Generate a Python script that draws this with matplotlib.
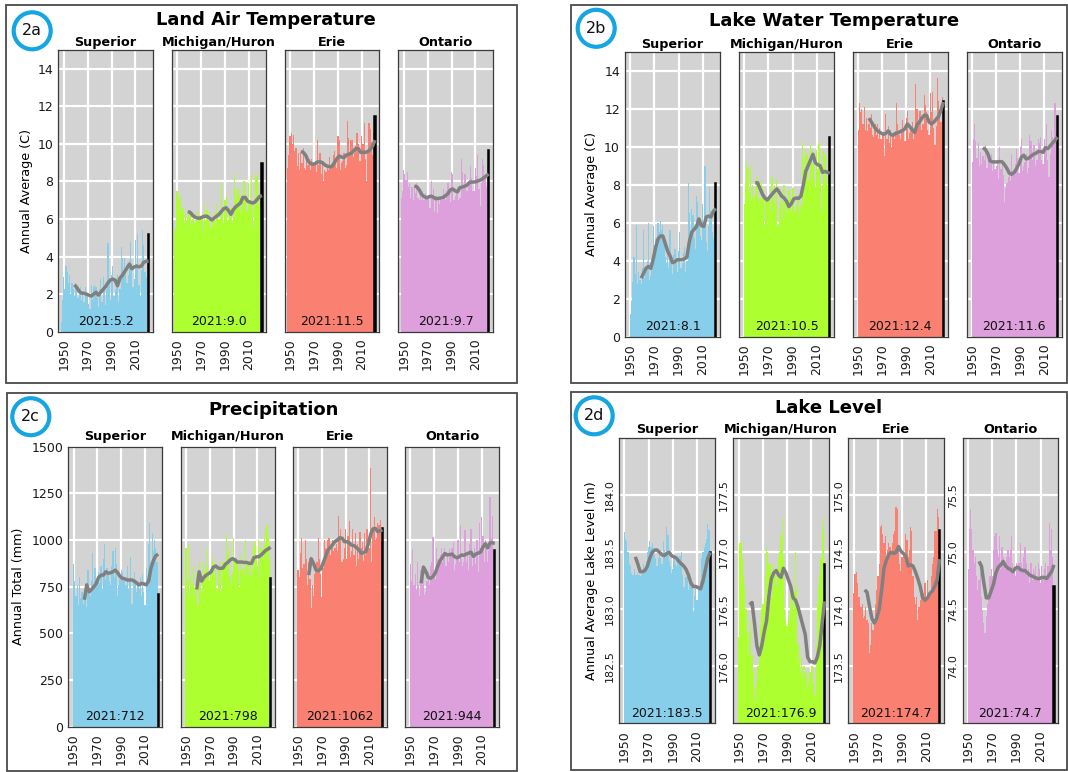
import matplotlib
matplotlib.use("Agg")
import matplotlib.pyplot as plt
from matplotlib.patches import Rectangle, Ellipse
from matplotlib.ticker import FormatStrFormatter

W, H = 1068, 772

# ---------------- data ----------------
LAKES = ["Superior", "Michigan/Huron", "Erie", "Ontario"]
COLORS = ["#87CEEB", "#ADFF2F", "#FA8072", "#DDA0DD"]
XTICKS = [1950, 1970, 1990, 2010]

AIR_YEARS = list(range(1948, 2022))
YEARS = list(range(1950, 2022))
LINE_YEARS = list(range(1959, 2022, 2))

# 2a Land air temperature (C), 1948-2021
AIR_SUP = [0.5, 1.7,
           2.9, 2.3, 3.5, 3.2, 2.6, 3.0, 2.0, 2.6, 2.3, 1.9,
           2.6, 2.5, 1.8, 2.2, 2.4, 1.7, 2.1, 1.6, 2.4, 2.0,
           1.9, 1.5, 1.2, 2.5, 1.7, 2.4, 2.5, 2.4, 1.8, 1.3,
           2.3, 2.8, 1.6, 2.9, 2.4, 1.4, 2.2, 4.7, 2.7, 1.7,
           3.0, 3.5, 1.9, 2.2, 2.7, 3.0, 1.6, 2.3, 4.5, 3.9,
           3.2, 3.9, 3.1, 2.6, 3.0, 3.8, 4.8, 3.6, 2.4, 2.8,
           4.9, 3.6, 5.2, 2.5, 1.9, 3.3, 5.4, 4.6, 3.2, 2.9,
           4.4, 5.2]
AIR_MH = [5.3, 5.5,
          7.5, 7.3, 6.9, 7.2, 6.4, 6.6, 5.8, 6.3, 5.9, 6.1,
          6.3, 6.5, 5.7, 6.0, 6.3, 5.8, 6.4, 5.9, 6.4, 6.0,
          6.1, 6.0, 5.3, 6.8, 5.9, 6.5, 5.9, 6.4, 5.6, 5.5,
          5.9, 6.4, 5.8, 6.8, 6.3, 6.0, 6.4, 7.9, 6.5, 5.8,
          7.0, 7.3, 5.9, 6.0, 6.5, 6.6, 5.8, 6.1, 8.4, 7.6,
          7.0, 7.6, 7.3, 6.4, 6.7, 7.2, 8.0, 7.3, 6.4, 6.5,
          7.9, 7.0, 8.3, 6.6, 5.5, 6.8, 8.4, 8.2, 7.0, 6.7,
          7.9, 9.0]
AIR_ERIE = [8.7, 9.4,
            10.4, 10.6, 10.0, 10.5, 9.6, 9.8, 8.8, 9.5, 8.6, 9.5,
            9.0, 9.8, 8.7, 8.6, 9.4, 8.9, 9.2, 8.6, 9.2, 8.9,
            9.0, 9.1, 8.5, 10.2, 8.9, 9.5, 8.4, 9.0, 8.0, 8.6,
            8.5, 8.8, 8.6, 9.3, 8.9, 8.7, 9.4, 9.6, 9.2, 8.7,
            10.4, 10.2, 8.6, 9.0, 9.1, 9.5, 8.7, 8.9, 11.2, 10.3,
            9.4, 10.2, 10.2, 9.3, 9.5, 9.9, 10.6, 10.0, 9.1, 9.1,
            10.4, 10.0, 11.1, 9.2, 8.0, 9.5, 11.1, 10.8, 10.1, 9.4,
            10.6, 11.5]
AIR_ONT = [7.1, 7.5,
           8.6, 8.4, 8.1, 8.5, 7.7, 7.9, 7.1, 7.7, 7.0, 7.8,
           7.4, 7.9, 7.1, 7.0, 7.6, 7.0, 7.5, 7.0, 7.4, 7.1,
           7.2, 7.3, 6.6, 8.0, 7.1, 7.6, 6.4, 7.2, 6.3, 7.0,
           6.8, 7.1, 7.0, 7.6, 7.2, 7.0, 7.5, 7.9, 7.4, 6.9,
           8.5, 8.4, 7.0, 7.2, 7.4, 7.7, 7.0, 7.1, 9.2, 8.5,
           7.6, 8.4, 8.4, 7.5, 7.7, 8.1, 8.8, 8.2, 7.5, 7.5,
           8.7, 8.3, 9.4, 7.6, 6.7, 7.9, 9.2, 8.9, 8.2, 7.7,
           8.8, 9.7]
AIR_LINE_SUP = [2.5, 2.35, 2.15, 2.05, 2.05, 2.0, 1.95, 1.9, 2.0, 2.1, 1.95, 2.1,
                2.25, 2.4, 2.6, 2.75, 2.8, 2.75, 2.45, 2.85, 3.0, 3.2, 3.4, 3.6,
                3.35, 3.45, 3.5, 3.45, 3.5, 3.7, 3.75, 3.75]
AIR_LINE_MH = [6.4, 6.35, 6.2, 6.1, 6.05, 6.05, 6.1, 6.15, 6.15, 6.05, 5.95, 6.05,
               6.15, 6.25, 6.4, 6.55, 6.6, 6.45, 6.25, 6.5, 6.65, 6.75, 6.85, 7.15,
               7.15, 6.95, 6.9, 6.85, 6.9, 7.05, 7.2, 7.25]
AIR_LINE_ERIE = [9.6, 9.55, 9.4, 9.1, 8.95, 8.92, 8.95, 9.04, 9.05, 9.0, 8.88, 8.82,
                 8.78, 8.8, 9.0, 9.2, 9.36, 9.3, 9.27, 9.4, 9.45, 9.5, 9.62, 9.75,
                 9.75, 9.55, 9.55, 9.55, 9.6, 9.7, 9.9, 10.2]
AIR_LINE_ONT = [7.76, 7.72, 7.55, 7.31, 7.2, 7.13, 7.18, 7.22, 7.15, 7.08, 7.1, 7.12,
                7.15, 7.25, 7.35, 7.55, 7.6, 7.5, 7.45, 7.67, 7.7, 7.75, 7.8, 7.95,
                7.97, 7.97, 8.0, 8.05, 8.1, 8.2, 8.3, 8.4]

# 2b Lake water temperature (C), 1950-2021
WAT_SUP = [1.2, 1.9, 2.9, 4.2, 3.3, 5.9, 2.8, 3.4, 3.0, 2.8,
           3.6, 5.6, 3.1, 3.6, 4.0, 6.0, 3.0, 3.2, 3.6, 5.8,
           4.8, 5.2, 4.6, 6.0, 5.5, 6.1, 5.6, 5.9, 5.0, 4.2,
           3.9, 4.5, 3.6, 5.6, 4.0, 3.3, 4.3, 4.6, 3.9, 3.4,
           4.5, 5.5, 3.6, 3.9, 4.4, 4.7, 3.4, 4.0, 8.1, 6.5,
           5.2, 6.7, 6.4, 5.2, 4.6, 7.4, 7.1, 6.2, 5.3, 5.1,
           7.0, 5.9, 9.0, 5.0, 4.5, 5.8, 7.9, 6.6, 5.5, 5.2,
           7.2, 8.1]
WAT_MH = [7.0, 8.1, 9.2, 8.9, 7.6, 9.0, 7.2, 8.0, 7.3, 7.5,
          8.4, 8.3, 7.0, 7.3, 8.2, 7.6, 7.9, 5.8, 7.3, 7.2,
          7.4, 7.5, 6.6, 8.4, 7.2, 8.0, 7.0, 8.3, 5.8, 6.7,
          7.1, 7.4, 6.2, 8.0, 7.1, 6.5, 7.0, 7.7, 7.3, 6.6,
          7.8, 7.9, 6.6, 6.9, 7.3, 7.5, 6.4, 6.9, 10.3, 9.4,
          8.4, 9.8, 9.6, 8.2, 8.3, 10.1, 9.9, 9.1, 8.2, 7.9,
          9.8, 8.8, 10.2, 8.1, 6.6, 8.0, 9.8, 9.6, 8.4, 8.0,
          9.6, 10.5]
WAT_ERIE = [10.9, 12.3, 11.8, 12.0, 11.2, 12.1, 10.9, 11.5, 10.8, 11.2,
            11.0, 11.7, 10.6, 10.5, 11.2, 10.6, 11.2, 10.4, 11.0, 10.4,
            10.6, 10.7, 9.5, 11.7, 10.4, 11.1, 10.2, 10.9, 10.0, 10.5,
            10.4, 10.8, 12.3, 11.2, 10.6, 10.4, 10.9, 11.4, 10.9, 10.3,
            11.5, 11.9, 10.4, 10.7, 11.0, 11.3, 10.4, 10.7, 13.3, 12.0,
            11.1, 11.9, 11.9, 10.9, 11.2, 12.7, 12.2, 11.8, 10.9, 10.6,
            12.8, 11.8, 12.9, 11.0, 10.1, 11.1, 13.6, 12.4, 11.9, 11.3,
            12.6, 12.4]
WAT_ONT = [9.2, 10.4, 11.2, 10.3, 9.4, 10.2, 9.0, 9.7, 9.1, 9.5,
           9.3, 10.1, 8.9, 8.9, 9.5, 9.1, 9.6, 8.7, 9.3, 8.8,
           9.0, 9.2, 8.3, 10.0, 8.8, 9.3, 8.5, 7.1, 7.8, 8.1,
           8.4, 8.6, 8.2, 9.6, 8.7, 8.5, 9.1, 9.9, 9.4, 8.6,
           10.0, 10.4, 8.7, 9.0, 9.2, 9.6, 8.6, 8.9, 10.6, 10.3,
           9.3, 10.1, 10.1, 9.0, 9.3, 10.4, 10.2, 10.5, 9.3, 9.1,
           10.4, 10.0, 11.2, 9.3, 8.4, 9.6, 10.9, 10.5, 10.1, 12.3,
           10.7, 11.6]
WAT_LINE_SUP = [3.08, 3.35, 3.6, 3.7, 3.6, 4.1, 4.7, 5.15, 5.3, 5.3, 4.9, 4.5,
                4.25, 3.9, 3.95, 4.05, 4.05, 4.05, 4.1, 4.2, 5.0, 5.5, 5.65, 5.8,
                6.2, 5.85, 5.8, 6.3, 6.35, 6.3, 6.6, 6.75]
WAT_LINE_MH = [8.1, 8.1, 7.8, 7.5, 7.3, 7.2, 7.35, 7.5, 7.65, 7.78, 7.6, 7.4,
               7.3, 7.13, 6.85, 7.0, 7.25, 7.3, 7.28, 7.4, 8.0, 8.7, 9.0, 9.3,
               9.6, 9.15, 9.05, 9.0, 8.65, 8.7, 8.65, 8.6]
WAT_LINE_ERIE = [11.5, 11.3, 11.1, 10.9, 10.8, 10.72, 10.65, 10.7, 10.83, 10.65, 10.6, 10.7,
                 10.72, 10.8, 10.85, 10.95, 11.2, 11.05, 10.9, 10.75, 11.15, 11.3, 11.5, 11.65,
                 11.65, 11.3, 11.2, 11.3, 11.45, 11.6, 11.95, 12.35]
WAT_LINE_ONT = [9.95, 9.85, 9.65, 9.24, 9.2, 9.2, 9.2, 9.22, 9.2, 9.05, 8.85, 8.6,
                8.55, 8.65, 8.85, 9.1, 9.45, 9.55, 9.35, 9.4, 9.5, 9.6, 9.65, 9.75,
                9.75, 9.7, 9.95, 9.9, 10.05, 10.2, 10.35, 10.5]

# 2c Precipitation (mm), 1950-2021
PRE_SUP = [870, 780, 700, 760, 650, 800, 690, 720, 660, 700,
           760, 640, 840, 720, 700, 780, 930, 740, 850, 780,
           800, 830, 770, 860, 740, 900, 980, 790, 850, 820,
           780, 760, 860, 940, 800, 960, 870, 700, 760, 790,
           840, 830, 780, 800, 760, 860, 740, 780, 910, 660,
           780, 830, 780, 720, 760, 740, 800, 700, 820, 720,
           650, 850, 760, 980, 1090, 880, 1040, 940, 1000, 960,
           880, 712]
PRE_MH = [960, 790, 980, 700, 800, 760, 860, 750, 700, 830,
          650, 880, 760, 720, 780, 880, 830, 960, 860, 820,
          780, 830, 910, 880, 800, 870, 740, 860, 850, 880,
          720, 880, 880, 870, 1030, 920, 960, 800, 760, 830,
          1010, 890, 900, 890, 840, 750, 920, 840, 850, 810,
          1000, 880, 870, 820, 900, 800, 960, 840, 990, 900,
          860, 1000, 800, 960, 950, 900, 1050, 980, 1080, 1010,
          900, 798]
PRE_ERIE = [840, 800, 930, 1010, 850, 870, 1000, 900, 760, 880,
            790, 634, 760, 700, 820, 860, 880, 1010, 900, 820,
            696, 850, 1000, 960, 920, 1000, 1010, 920, 980, 1000,
            940, 960, 980, 940, 1130, 1000, 1060, 880, 900, 960,
            1060, 900, 1020, 1100, 910, 940, 1060, 920, 1040, 860,
            980, 900, 1045, 960, 990, 890, 1040, 920, 1060, 1000,
            960, 1384, 880, 1050, 1125, 1000, 1010, 1090, 1080, 1110,
            990, 1062]
PRE_ONT = [870, 780, 950, 760, 820, 730, 880, 760, 700, 840,
           760, 800, 705, 720, 780, 830, 760, 860, 880, 1018,
           800, 790, 960, 900, 880, 920, 960, 880, 930, 960,
           860, 920, 880, 950, 920, 960, 990, 840, 870, 900,
           1000, 880, 1080, 900, 860, 880, 1054, 880, 920, 840,
           980, 1060, 860, 900, 960, 870, 1000, 830, 1089, 960,
           1125, 1020, 880, 1000, 960, 880, 940, 1232, 1010, 1130,
           900, 944]
PRE_LINE_SUP = [680, 760, 723, 735, 750, 768, 800, 812, 812, 830, 822, 825,
                830, 839, 825, 805, 795, 792, 786, 786, 786, 780, 770, 760,
                768, 765, 760, 780, 850, 890, 915, 925]
PRE_LINE_MH = [735, 830, 780, 800, 812, 820, 830, 855, 861, 850, 848, 850,
               870, 880, 893, 900, 895, 882, 882, 882, 880, 880, 875, 875,
               905, 910, 910, 920, 932, 945, 952, 962]
PRE_LINE_ERIE = [812, 900, 875, 840, 835, 845, 875, 910, 946, 960, 975, 992,
                 1000, 1012, 1010, 991, 991, 985, 973, 970, 960, 948, 930, 932,
                 938, 979, 1030, 1060, 1062, 1045, 1050, 1054]
PRE_LINE_ONT = [768, 855, 832, 800, 795, 804, 825, 860, 890, 908, 928, 920,
                922, 925, 912, 905, 910, 920, 918, 925, 930, 935, 912, 925,
                930, 935, 962, 980, 958, 985, 985, 982]

# 2d Lake level (m), 1950-2021
LEV_SUP = [183.68, 183.62, 183.60, 183.50, 183.40, 183.38, 183.32, 183.30, 183.35, 183.30,
           183.30, 183.32, 183.30, 183.29, 183.30, 183.35, 183.40, 183.36, 183.42, 183.50,
           183.55, 183.60, 183.55, 183.58, 183.52, 183.48, 183.45, 183.38, 183.45, 183.50,
           183.45, 183.40, 183.60, 183.52, 183.45, 183.72, 183.65, 183.42, 183.38, 183.32,
           183.35, 183.45, 183.40, 183.38, 183.42, 183.40, 183.47, 183.50, 183.30, 183.20,
           183.20, 183.28, 183.30, 183.17, 183.25, 183.22, 183.20, 182.98, 183.12, 183.18,
           183.08, 183.18, 183.20, 183.25, 183.45, 183.50, 183.55, 183.58, 183.62, 183.75,
           183.70, 183.50]
LEV_MH = [176.26, 177.08, 177.10, 176.95, 176.80, 176.70, 176.50, 176.30, 176.10, 176.30,
          176.40, 176.10, 175.95, 175.80, 175.70, 175.85, 176.00, 176.20, 176.35, 176.50,
          176.55, 176.60, 176.80, 177.05, 177.00, 176.90, 176.90, 176.60, 176.70, 176.90,
          176.85, 176.70, 176.80, 176.95, 177.00, 177.15, 177.30, 176.95, 176.50, 176.40,
          176.35, 176.45, 176.40, 176.70, 176.60, 176.50, 176.65, 177.00, 176.70, 176.20,
          176.05, 175.95, 176.10, 175.90, 176.00, 175.95, 175.92, 175.80, 175.85, 175.95,
          176.00, 176.00, 175.85, 175.75, 176.20, 176.55, 176.70, 176.80, 176.95, 177.20,
          177.30, 176.90]
LEV_ERIE = [174.14, 174.31, 174.33, 174.23, 174.11, 174.11, 174.02, 174.05, 173.92, 173.94,
            174.02, 173.91, 173.88, 173.62, 173.69, 173.88, 173.82, 173.88, 174.05, 174.17,
            174.29, 174.40, 174.72, 174.74, 174.66, 174.58, 174.64, 174.43, 174.52, 174.58,
            174.55, 174.49, 174.58, 174.66, 174.69, 174.90, 174.88, 174.55, 174.40, 174.34,
            174.46, 174.49, 174.46, 174.66, 174.61, 174.46, 174.52, 174.72, 174.69, 174.29,
            174.11, 174.05, 174.11, 173.91, 174.02, 174.08, 174.11, 174.08, 174.14, 174.23,
            174.08, 174.26, 174.11, 174.14, 174.29, 174.40, 174.46, 174.69, 174.69, 174.88,
            174.81, 174.70]
LEV_ONT = [74.85, 75.20, 75.38, 75.20, 75.02, 74.91, 74.96, 74.79, 74.67, 74.76,
           74.82, 74.61, 74.49, 74.38, 74.29, 74.44, 74.55, 74.61, 74.79, 74.85,
           74.79, 75.02, 75.14, 75.17, 75.02, 74.96, 75.14, 74.85, 75.05, 74.96,
           74.91, 74.85, 74.96, 75.02, 74.96, 75.02, 75.14, 74.91, 74.85, 74.79,
           74.91, 74.85, 74.91, 75.08, 74.91, 74.85, 74.96, 75.05, 74.91, 74.79,
           74.85, 74.73, 74.91, 74.76, 74.85, 74.82, 74.88, 74.79, 74.91, 74.85,
           74.73, 74.88, 74.79, 74.85, 74.91, 74.79, 74.88, 75.26, 75.02, 75.20,
           74.96, 74.70]
LEV_LINE_SUP = [183.46, 183.40, 183.33, 183.33, 183.34, 183.38, 183.45, 183.50, 183.52, 183.52,
                183.50, 183.48, 183.47, 183.49, 183.50, 183.47, 183.46, 183.45, 183.42, 183.40,
                183.38, 183.35, 183.30, 183.23, 183.20, 183.20, 183.19, 183.18, 183.25, 183.35,
                183.45, 183.50]
LEV_LINE_MH = [176.54, 176.56, 176.38, 176.18, 176.10, 176.18, 176.30, 176.40, 176.62, 176.77,
               176.82, 176.84, 176.80, 176.78, 176.86, 176.82, 176.76, 176.70, 176.60, 176.58,
               176.52, 176.44, 176.36, 176.28, 176.08, 176.04, 176.04, 176.03, 176.08, 176.18,
               176.38, 176.57]
LEV_LINE_ERIE = [174.17, 174.15, 174.03, 173.92, 173.88, 173.92, 174.00, 174.16, 174.36, 174.43,
                 174.48, 174.50, 174.49, 174.50, 174.55, 174.51, 174.49, 174.47, 174.38, 174.39,
                 174.38, 174.33, 174.27, 174.20, 174.10, 174.08, 174.10, 174.14, 174.16, 174.20,
                 174.26, 174.44]
LEV_LINE_ONT = [74.92, 74.88, 74.73, 74.60, 74.60, 74.66, 74.72, 74.82, 74.87, 74.89,
                74.92, 74.88, 74.86, 74.85, 74.83, 74.86, 74.87, 74.85, 74.84, 74.84,
                74.82, 74.80, 74.79, 74.78, 74.77, 74.77, 74.78, 74.78, 74.77, 74.80,
                74.83, 74.89]

# ---------------- layout (pixels) ----------------
fig = plt.figure(figsize=(W / 100, H / 100), dpi=100)
fig.patch.set_facecolor("white")

RING = "#14a5e2"
BOX_EC = "#4a4a4a"


def add_ax(left, top, width, height):
    return fig.add_axes([left / W, 1 - (top + height) / H, width / W, height / H])


def box(x0, y0, x1, y1):
    fig.add_artist(Rectangle((x0 / W, 1 - y1 / H), (x1 - x0) / W, (y1 - y0) / H,
                             transform=fig.transFigure, fill=False, ec=BOX_EC, lw=1.3))


def badge(cx, cy, label):
    r = 18.5
    fig.add_artist(Ellipse((cx / W, 1 - cy / H), 2 * r / W, 2 * r / H,
                           transform=fig.transFigure, fill=False, ec=RING, lw=3.0))
    fig.text(cx / W, 1 - cy / H, label, ha="center", va="center", fontsize=11.5,
             color="#111111")


def draw(ax, years, vals, line, color, ylim, yticks, lake, title_pad,
         show_yl, fmt, rot_y=False):
    ax.set_facecolor("#d3d3d3")
    ax.bar(years[:-1], vals[:-1], width=1.0, color=color, lw=0, zorder=2)
    ax.bar(years[-1], vals[-1], width=1.0, color="black", edgecolor="black",
           lw=1.1, zorder=3)
    ax.plot(LINE_YEARS, line, color="#808080", lw=2.5, zorder=4,
            solid_joinstyle="round", solid_capstyle="butt")
    ax.set_xlim(1945.5, 2024.5)
    ax.set_ylim(*ylim)
    ax.set_xticks(XTICKS)
    ax.set_xticklabels([str(t) for t in XTICKS], rotation=90)
    ax.set_yticks(yticks)
    ax.set_axisbelow(True)
    ax.grid(True, color="white", lw=1.6)
    for s in ax.spines.values():
        s.set_color("#3a3a3a")
        s.set_linewidth(0.9)
    ax.tick_params(axis="x", length=0, pad=5, labelsize=9, labelcolor="#1a1a1a")
    ax.tick_params(axis="y", length=0, pad=3.6, labelsize=9, labelcolor="#1a1a1a")
    if rot_y:
        ax.yaxis.set_major_formatter(FormatStrFormatter("%.1f"))
        ax.tick_params(axis="y", labelsize=8, labelrotation=90, pad=3)
        for lab in ax.get_yticklabels():
            lab.set_va("center")
    if not show_yl:
        ax.tick_params(axis="y", labelleft=False)
    ax.set_title(lake, fontsize=9.2, fontweight="bold", pad=title_pad)
    ax.text(0.5, 0.012, "2021:" + fmt(vals[-1]), transform=ax.transAxes,
            ha="center", va="bottom", fontsize=9, color="#111111", zorder=6)


def f1(v):
    return f"{v:.1f}"


def f0(v):
    return f"{v:.0f}"


# --- 2a ---
box(6, 5, 517.3, 382.7)
badge(32.2, 30.8, "2a")
fig.text(265.5 / W, 1 - 20 / H, "Land Air Temperature", ha="center", va="center",
         fontsize=13, fontweight="bold")
fig.text(26.7 / W, 1 - 191 / H, "Annual Average (C)", rotation=90, ha="center",
         va="center", fontsize=9.2)
lefts = [58.3, 171.7, 284.7, 398.3]
data = [AIR_SUP, AIR_MH, AIR_ERIE, AIR_ONT]
lines = [AIR_LINE_SUP, AIR_LINE_MH, AIR_LINE_ERIE, AIR_LINE_ONT]
for i in range(4):
    ax = add_ax(lefts[i], 50, 94.5, 281.7)
    draw(ax, AIR_YEARS, data[i], lines[i], COLORS[i], (0, 15), list(range(0, 15, 2)),
         LAKES[i], 2.6, i == 0, f1)

# --- 2b ---
box(570.7, 5, 1067, 382.7)
badge(596.2, 28.3, "2b")
fig.text(834 / W, 1 - 20.5 / H, "Lake Water Temperature", ha="center", va="center",
         fontsize=13, fontweight="bold")
fig.text(591.7 / W, 1 - 194 / H, "Annual Average (C)", rotation=90, ha="center",
         va="center", fontsize=9.2)
lefts = [625, 739, 852.7, 966.7]
data = [WAT_SUP, WAT_MH, WAT_ERIE, WAT_ONT]
lines = [WAT_LINE_SUP, WAT_LINE_MH, WAT_LINE_ERIE, WAT_LINE_ONT]
for i in range(4):
    ax = add_ax(lefts[i], 51.7, 95, 285)
    draw(ax, YEARS, data[i], lines[i], COLORS[i], (0, 15), list(range(0, 15, 2)),
         LAKES[i], 2.6, i == 0, f1)

# --- 2c ---
box(7, 393.3, 517.3, 770.7)
badge(30.8, 416.7, "2c")
fig.text(274 / W, 1 - 410 / H, "Precipitation", ha="center", va="center",
         fontsize=13, fontweight="bold")
fig.text(19 / W, 1 - 586.7 / H, "Annual Total (mm)", rotation=90, ha="center",
         va="center", fontsize=9.2)
lefts = [68.3, 180.7, 292.7, 405]
data = [PRE_SUP, PRE_MH, PRE_ERIE, PRE_ONT]
lines = [PRE_LINE_SUP, PRE_LINE_MH, PRE_LINE_ERIE, PRE_LINE_ONT]
for i in range(4):
    ax = add_ax(lefts[i], 446.7, 94, 280)
    draw(ax, YEARS, data[i], lines[i], COLORS[i], (0, 1500),
         [0, 250, 500, 750, 1000, 1250, 1500], LAKES[i], 4.6, i == 0, f0)

# --- 2d ---
box(570.7, 392.3, 1067, 769.5)
badge(594.2, 415.8, "2d")
fig.text(829 / W, 1 - 408 / H, "Lake Level", ha="center", va="center",
         fontsize=13, fontweight="bold")
fig.text(591.7 / W, 1 - 581 / H, "Annual Average Lake Level (m)", rotation=90,
         ha="center", va="center", fontsize=9.2)
lefts = [619, 733.3, 848.3, 962.7]
data = [LEV_SUP, LEV_MH, LEV_ERIE, LEV_ONT]
lines = [LEV_LINE_SUP, LEV_LINE_MH, LEV_LINE_ERIE, LEV_LINE_ONT]
ylims = [(182.0, 184.5), (175.5, 178.0), (173.0, 175.5), (73.5, 76.0)]
yticks = [[182.5, 183.0, 183.5, 184.0], [176.0, 176.5, 177.0, 177.5],
          [173.5, 174.0, 174.5, 175.0], [74.0, 74.5, 75.0, 75.5]]
for i in range(4):
    ax = add_ax(lefts[i], 438.3, 95.5, 285)
    draw(ax, YEARS, data[i], lines[i], COLORS[i], ylims[i], yticks[i],
         LAKES[i], 4.0, True, f1, rot_y=True)

fig.savefig("out.png", dpi=100)
